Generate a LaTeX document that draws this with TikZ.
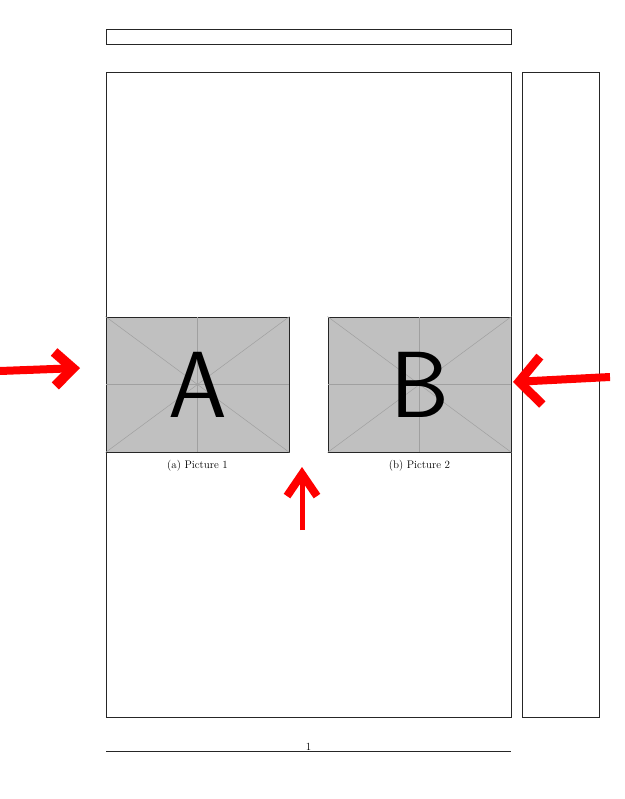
\documentclass[tikz,border=0pt]{standalone}
\usetikzlibrary{positioning,arrows.meta}
\definecolor{mygray}{RGB}{192,192,192}
\definecolor{mycross}{RGB}{160,160,160}
\definecolor{myred}{RGB}{255,0,0}
\tikzstyle{frame}=[draw=black!85,line width=0.8pt]
\tikzstyle{imgbox}=[draw=black!85,fill=mygray,minimum width=183pt,minimum height=135pt,inner sep=0pt,line width=0.8pt]
\tikzstyle{letter}=[font=\fontsize{94}{94}\selectfont\sffamily,inner sep=0pt]
\tikzstyle{caption}=[font=\fontsize{11}{13}\selectfont]
\tikzstyle{redarr}=[draw=myred,line width=8pt,line join=round]

\begin{document}
\begin{tikzpicture}[x=1pt,y=-1pt]
      \useasboundingbox (0,0) rectangle (624,799);
      % page frames
      \draw[frame] (106,29) rectangle (511,44);
      \draw[frame] (106,72) rectangle (511,717);
      \draw[frame] (522,72) rectangle (599,717);
      \draw[frame] (106,751) -- (511,751);
      \node (pagenum) [anchor=base,inner sep=0pt,font=\fontsize{11}{13}\selectfont] at (308.5,750.5) {1};

      % the two images
      \node (picA) [imgbox] at (197.5,384.5) {};
      \node (picB) [imgbox] at (419.5,384.5) {};
      \foreach \p in {picA,picB} {
        \draw[mycross,line width=0.5pt] (\p.north west) -- (\p.south east);
        \draw[mycross,line width=0.5pt] (\p.south west) -- (\p.north east);
        \draw[mycross,line width=0.5pt] (\p.north) -- (\p.south);
        \draw[mycross,line width=0.5pt] (\p.west) -- (\p.east);
      }
      \node (letA) [letter] at (picA.center) {A};
      \node (letB) [letter] at (picB.center) {B};
      \node (capA) [caption,below=4pt of picA] {(a) Picture 1};
      \node (capB) [caption,below=4pt of picB] {(b) Picture 2};

      % red arrows
      \coordinate (lstart) at (0,371);
      \coordinate (ltip) at (80,368);
      \coordinate (rstart) at (610,377);
      \coordinate (rtip) at (513,382);
      \coordinate (ustart) at (302,530);
      \coordinate (utip) at (302,467);
      \draw[redarr,-{Straight Barb[length=18pt,width=34pt,line width'=10pt]}] (lstart) -- (ltip);
      \draw[redarr,-{Straight Barb[length=22pt,width=48pt,line width'=9pt]}] (rstart) -- (rtip);
      \draw[redarr,line width=5pt,-{Straight Barb[length=22pt,width=30pt,line width'=8pt]}] (ustart) -- (utip);
    \end{tikzpicture}
\end{document}
